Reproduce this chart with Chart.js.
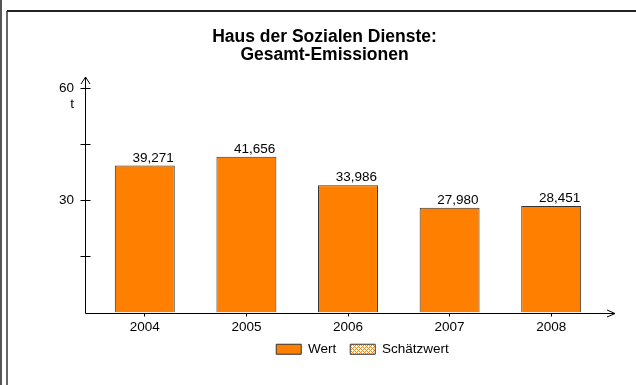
<!DOCTYPE html>
<html>
<head>
<meta charset="utf-8">
<script src="https://cdn.jsdelivr.net/npm/chart.js@4/dist/chart.umd.min.js"></script>
<style>
  html, body { margin: 0; padding: 0; background: #fff; }
  #wrap { width: 636px; height: 385px; position: relative; }
</style>
</head>
<body>
<div id="wrap"><canvas id="c" width="636" height="385"></canvas></div>
<script>
// Emissions of the "Haus der Sozialen Dienste", tonnes per year
const years = ['2004', '2005', '2006', '2007', '2008'];
const emissions = [39.271, 41.656, 33.986, 27.980, 28.451];
const estimates = [null, null, null, null, null];
const yTickValues = [15, 30, 45, 60];
const yTickLabels = { 30: '30', 60: '60' };
const unitLabel = 't';
const titleLines = ['Haus der Sozialen Dienste:', 'Gesamt-Emissionen'];
const seriesNames = ['Wert', 'Schätzwert'];

const FONT = "'Liberation Sans', Arial, sans-serif";
const ORANGE = '#FF8000';

// orange/white cross-hatch for estimated values
function hatchPattern() {
  const c = document.createElement('canvas');
  c.width = 4; c.height = 4;
  const g = c.getContext('2d');
  g.fillStyle = '#fff';
  g.fillRect(0, 0, 4, 4);
  g.fillStyle = ORANGE;
  for (let x = 0; x < 4; x++) {
    for (let y = 0; y < 4; y++) {
      if ((x + y) % 4 === 0 || (x - y + 4) % 4 === 0) g.fillRect(x, y, 1, 1);
    }
  }
  return g.createPattern(c, 'repeat');
}

const ctx = document.getElementById('c').getContext('2d');

// page frame, arrow axes, crossing ticks, unit and value labels
const decorations = {
  id: 'decorations',
  afterLayout(chart) {
    if (chart.titleBlock) { chart.titleBlock.left += 20; chart.titleBlock.right += 20; }
    if (chart.legend) {
      chart.legend.left += 58; chart.legend.right += 58;
      chart.legend.top -= 8; chart.legend.bottom -= 8;
    }
  },
  beforeDraw(chart) {
    const g = chart.ctx;
    g.save();
    g.fillStyle = '#fff';
    g.fillRect(0, 0, chart.width, chart.height);
    g.fillStyle = '#555';
    g.fillRect(0, 0, 2, chart.height);
    g.fillStyle = '#666';
    g.fillRect(6, 11, 2, chart.height - 11);
    g.fillStyle = '#222';
    g.fillRect(7, 10, chart.width - 7, 2);
    g.restore();
  },
  afterDatasetsDraw(chart) {
    const g = chart.ctx;
    const ys = chart.scales.y;
    const area = chart.chartArea;
    const axisX = Math.round(area.left - 9) + 0.5;
    const axisY = Math.round(ys.getPixelForValue(0)) + 0.5;
    const topY = ys.getPixelForValue(60) - 11;
    const endX = area.right + 13;
    g.save();
    g.strokeStyle = '#000';
    g.lineWidth = 1;
    g.beginPath();
    // y axis with open arrow head
    g.moveTo(axisX, axisY); g.lineTo(axisX, topY);
    g.moveTo(axisX - 4.5, topY + 7); g.lineTo(axisX, topY); g.lineTo(axisX + 4.5, topY + 7);
    // x axis with open arrow head
    g.moveTo(axisX, axisY); g.lineTo(endX, axisY);
    g.moveTo(endX - 8, axisY - 3.5); g.lineTo(endX, axisY); g.lineTo(endX - 8, axisY + 3.5);
    // ticks crossing the y axis
    yTickValues.forEach(v => {
      const py = Math.round(ys.getPixelForValue(v)) + 0.5;
      g.moveTo(axisX - 5, py); g.lineTo(axisX + 5, py);
    });
    g.stroke();

    g.fillStyle = '#000';
    g.font = '13.5px ' + FONT;
    g.textAlign = 'right';
    g.textBaseline = 'middle';
    g.fillText(unitLabel, axisX - 11.5, ys.getPixelForValue(60) + 16);

    // value labels above the bars
    g.textBaseline = 'alphabetic';
    const meta = chart.getDatasetMeta(0);
    meta.data.forEach((bar, i) => {
      const v = emissions[i];
      if (v == null) return;
      const txt = v.toFixed(3).replace('.', ',');
      g.fillText(txt, bar.x + bar.width / 2 - 1, bar.y - 4);
    });
    g.restore();
  }
};

new Chart(ctx, {
  type: 'bar',
  data: {
    labels: years,
    datasets: [
      { label: seriesNames[0], data: emissions, backgroundColor: ORANGE, borderColor: '#333', borderWidth: 1 },
      { label: seriesNames[1], data: estimates, backgroundColor: hatchPattern(), borderColor: '#333', borderWidth: 1 }
    ]
  },
  options: {
    responsive: false,
    animation: false,
    devicePixelRatio: 1,
    layout: { padding: { left: 7, right: 34, top: 11, bottom: 11 } },
    datasets: { bar: { grouped: false, barPercentage: 0.59, categoryPercentage: 1 } },
    scales: {
      x: {
        offset: true,
        grid: { display: true, drawOnChartArea: false, offset: false, tickLength: 4, color: '#000', lineWidth: 1 },
        border: { display: false },
        ticks: { padding: 3, color: '#000', font: { family: FONT, size: 13.5 } },
        afterFit: s => { s.height = 24; }
      },
      y: {
        min: 0,
        max: 60,
        afterBuildTicks: s => { s.ticks = yTickValues.map(v => ({ value: v })); },
        afterFit: s => { s.width = 87; },
        grid: { display: false, drawTicks: false },
        border: { display: false },
        ticks: {
          padding: 20,
          color: '#000',
          font: { family: FONT, size: 13.5 },
          callback: v => yTickLabels[v] || ''
        }
      }
    },
    plugins: {
      title: {
        display: true,
        text: titleLines,
        color: '#000',
        font: { family: FONT, size: 17.5, weight: 'bold', lineHeight: 1.04 },
        padding: { top: 17, bottom: 23.6 }
      },
      legend: {
        position: 'bottom',
        labels: {
          boxWidth: 25,
          boxHeight: 10,
          padding: 14,
          color: '#000',
          font: { family: FONT, size: 13.5 }
        }
      },
      tooltip: { enabled: false }
    }
  },
  plugins: [decorations]
});
</script>
</body>
</html>
